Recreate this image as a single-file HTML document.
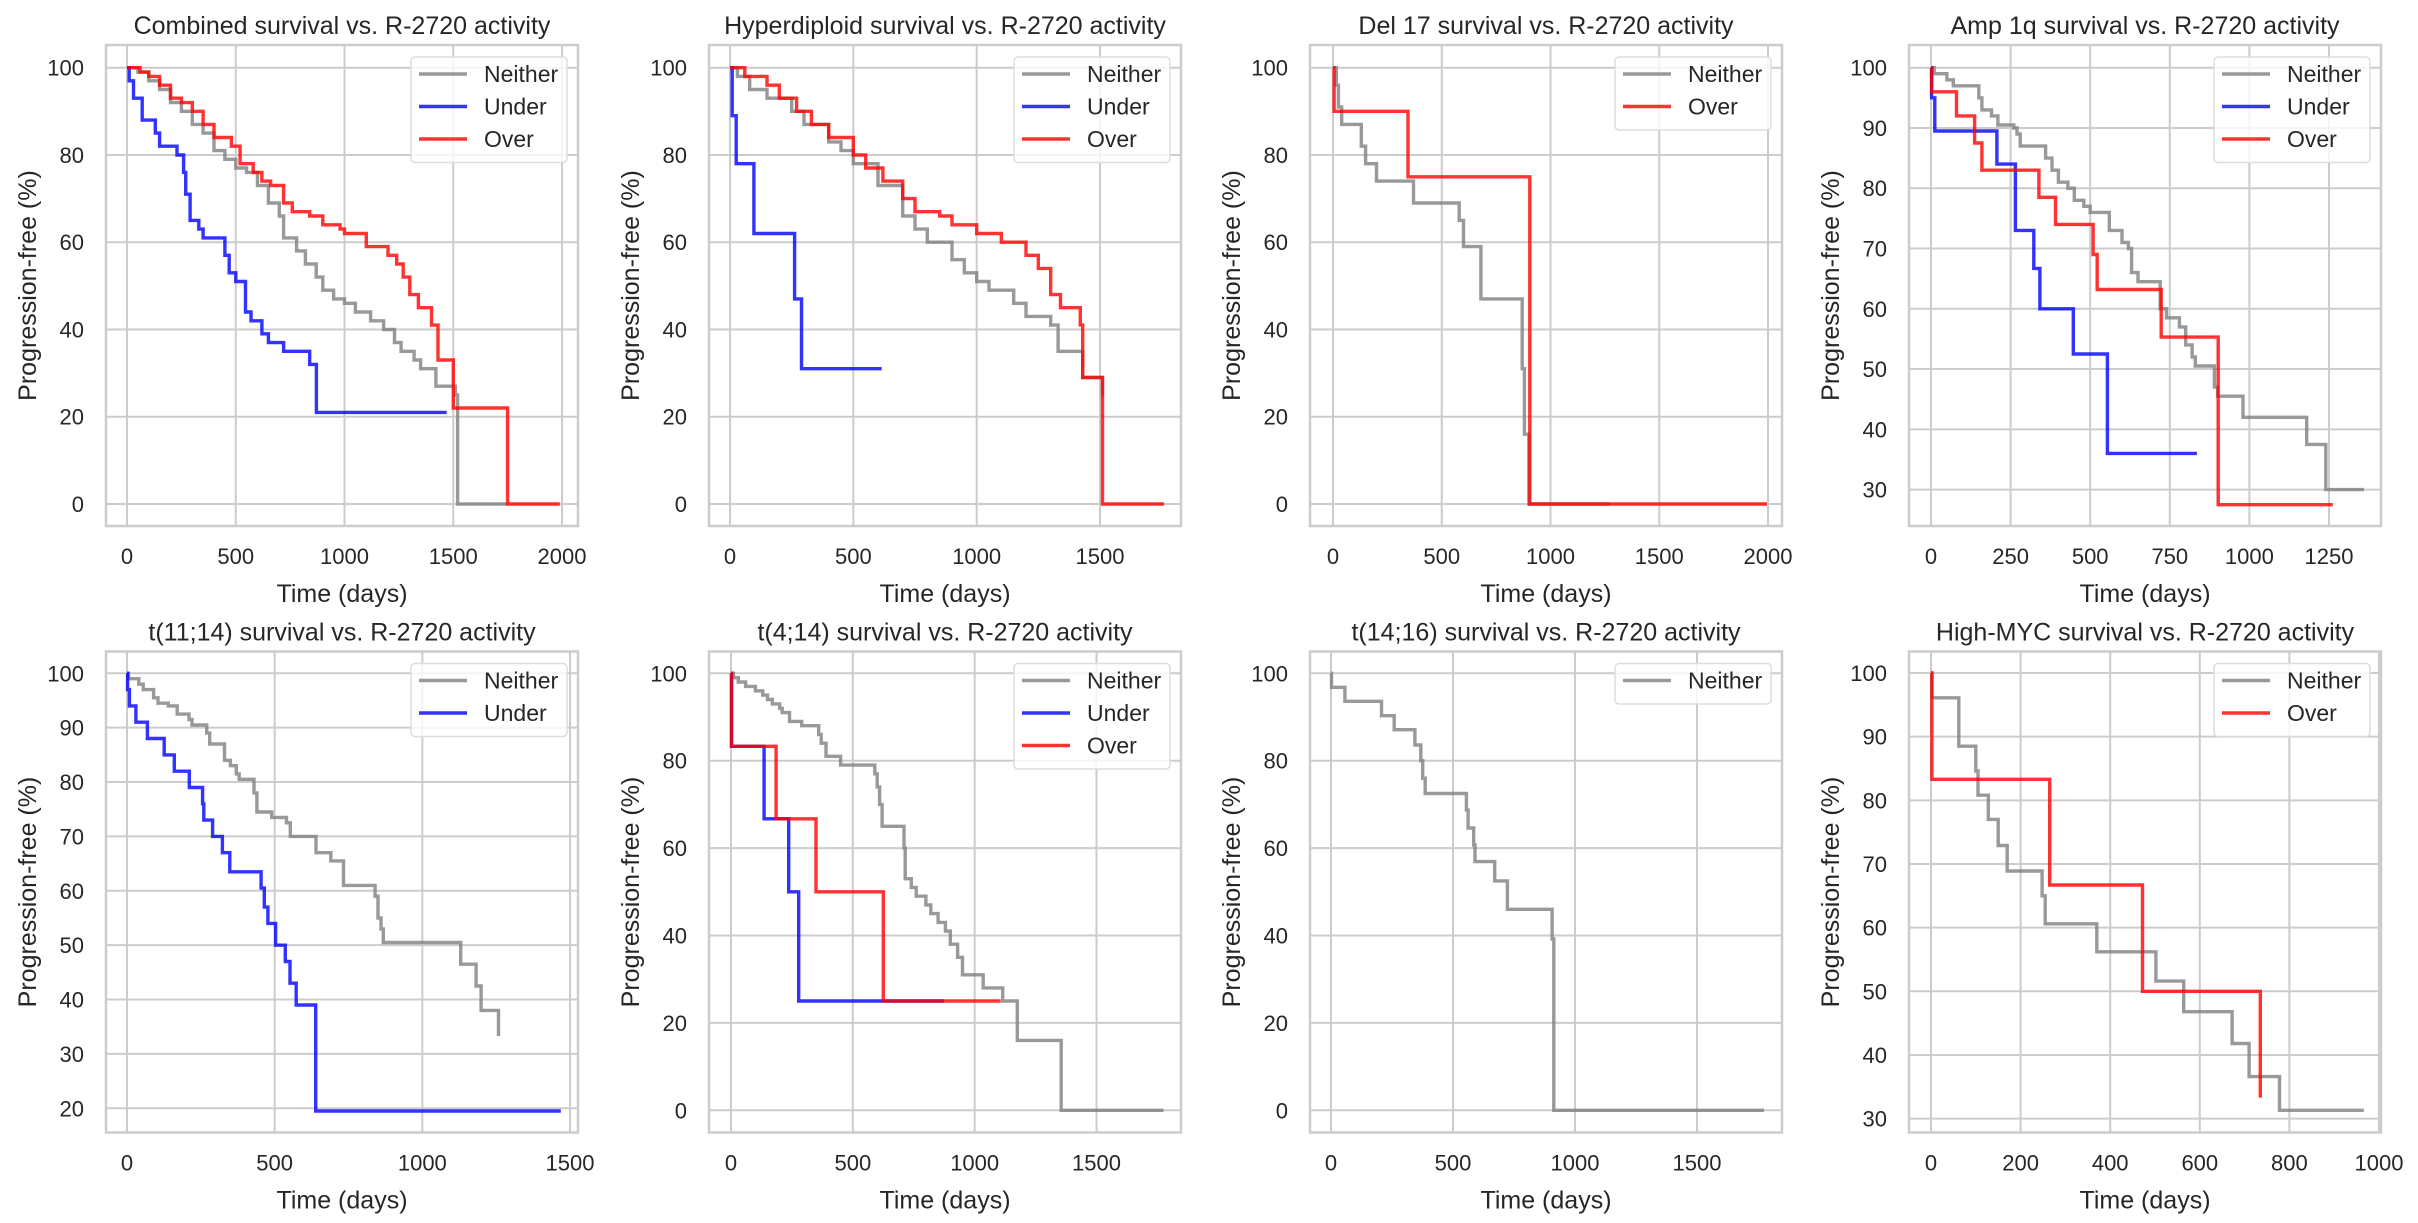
<!DOCTYPE html>
<html><head><meta charset="utf-8"><style>
body{margin:0;background:#fff}
svg text{font-family:"Liberation Sans",Arial,sans-serif;fill:#262626}
</style></head><body>
<svg id="s" width="2418" height="1218" xmlns="http://www.w3.org/2000/svg"></svg>
<script>
const G='#808080',B='#0000ff',R='#ff0000';
const cols=[106,709,1310,1909],rows=[45,651.5],W=472,H=481;
const P=[
{t:'Combined survival vs. R-2720 activity',c:0,r:0,x:[0,127,2000,562],y:[100,67.7,0,504],xt:[0,500,1000,1500,2000],yt:[0,20,40,60,80,100],
s:[[G,[[0,100],[50,99],[100,97],[150,95],[200,92],[250,90],[300,87],[350,85],[400,81],[450,79],[500,77],[550,76],[600,73],[650,69],[700,66],[720,61],[780,58],[820,55],[870,52],[900,49],[950,47],[1000,46],[1050,44],[1120,42],[1180,40],[1230,37],[1260,35],[1320,33],[1350,31],[1420,27],[1510,25],[1520,0],[1750,0]]],
[B,[[0,100],[10,97],[30,93],[70,88],[130,85],[150,82],[230,80],[260,76],[270,71],[290,65],[330,63],[350,61],[447,61],[450,57],[470,53],[500,51],[545,44],[570,42],[620,39],[650,37],[720,35],[840,32],[871,21],[1470,21]]],
[R,[[0,100],[60,99],[100,98],[150,96],[200,93],[250,92],[300,90],[350,87],[400,84],[480,82],[520,78],[580,76],[620,74],[660,73],[720,69],[760,67],[840,66],[900,64],[980,63],[1000,62],[1100,59],[1200,57],[1240,55],[1270,52],[1300,48],[1340,45],[1400,41],[1430,33],[1500,22],[1750,0],[1990,0]]]],L:['Neither','Under','Over']},
{t:'Hyperdiploid survival vs. R-2720 activity',c:1,r:0,x:[0,730,1500,1100],y:[100,67.7,0,504],xt:[0,500,1000,1500],yt:[0,20,40,60,80,100],
s:[[G,[[0,100],[30,98],[80,95],[150,93],[250,90],[300,87],[400,83],[450,81],[500,78],[600,73],[700,66],[750,63],[800,60],[900,56],[950,53],[1000,51],[1050,49],[1150,46],[1200,43],[1300,41],[1330,35],[1430,29],[1510,25],[1515,25]]],
[B,[[0,100],[9,89],[25,78],[97,62],[262,47],[290,31],[615,31]]],
[R,[[0,100],[60,98],[150,96],[200,93],[270,90],[330,87],[400,84],[500,80],[550,77],[620,74],[700,70],[750,67],[850,66],[900,64],[1000,62],[1100,60],[1200,57],[1250,54],[1300,48],[1340,45],[1420,41],[1430,29],[1510,0],[1760,0]]]],L:['Neither','Under','Over']},
{t:'Del 17 survival vs. R-2720 activity',c:2,r:0,x:[0,1333,2000,1768],y:[100,67.7,0,504],xt:[0,500,1000,1500,2000],yt:[0,20,40,60,80,100],
s:[[G,[[0,100],[15,96],[25,91],[40,87],[130,82],[150,78],[200,74],[370,69],[580,65],[600,59],[680,47],[870,31],[880,16],[900,0],[1270,0]]],
[R,[[0,100],[5,90],[343,90],[345,75],[903,75],[905,0],[1995,0]]]],L:['Neither','Over'],lc:[G,R]},
{t:'Amp 1q survival vs. R-2720 activity',c:3,r:0,x:[0,1931,1250,2329],y:[100,67.7,30,489.6],xt:[0,250,500,750,1000,1250],yt:[30,40,50,60,70,80,90,100],
s:[[G,[[0,100],[10,99],[50,98],[70,97],[140,97],[150,95],[160,93],[190,92],[210,90.5],[260,90],[270,89],[280,87],[340,87],[360,85],[380,83],[400,81],[430,80],[450,78],[480,77],[500,76],[560,73],[600,71],[620,70],[630,66],[650,64.5],[710,64.5],[720,60],[740,58.5],[780,57],[800,54],[820,52],[830,50.5],[880,50.5],[890,47],[900,45.5],[980,42],[1180,37.5],[1240,30],[1360,30]]],
[B,[[0,100],[2,95],[12,89.5],[207,84],[265,73],[323,66.7],[342,60],[447,52.5],[554,36],[835,36]]],
[R,[[0,100],[2,96],[80,92],[137,87.5],[160,83],[339,78.5],[391,74],[509,69],[522,63.2],[723,55.3],[902,27.5],[1262,27.5]]]],L:['Neither','Under','Over']},
{t:'t(11;14) survival vs. R-2720 activity',c:0,r:1,x:[0,127,1500,570],y:[100,673.3,20,1108.3],xt:[0,500,1000,1500],yt:[20,30,40,50,60,70,80,90,100],
s:[[G,[[0,100],[5,99],[40,98],[55,97],[90,95.5],[105,94.5],[140,94],[170,92.5],[210,91.5],[220,90.5],[260,90.5],[270,89],[280,87],[320,87],[330,84],[350,83],[370,81.5],[380,80.5],[423,80.5],[430,78],[440,74.5],[470,74.5],[490,73.5],[540,72.5],[553,70],[634,70],[640,67],[680,67],[690,65.5],[725,65.5],[733,61],[830,61],[840,59],[850,55],[860,53],[868,50.5],[1068,50.5],[1130,46.5],[1182,42.5],[1199,38],[1258,33.3]]],
[B,[[0,100],[2,97],[8,94],[30,91],[69,88],[126,85],[160,82],[211,79],[256,76],[260,73],[290,70],[323,67],[348,63.5],[454,60.5],[465,57],[477,54],[503,50],[536,47],[552,43],[573,39],[639,19.5],[1469,19.5]]]],L:['Neither','Under'],lc:[G,B]},
{t:'t(4;14) survival vs. R-2720 activity',c:1,r:1,x:[0,731,1500,1096.5],y:[100,673.3,0,1110.3],xt:[0,500,1000,1500],yt:[0,20,40,60,80,100],
s:[[G,[[0,100],[10,99],[30,98],[60,97],[100,96],[130,95],[150,94],[170,93],[200,92],[210,91],[240,89],[280,89],[290,88],[350,88],[360,86],[370,84],[390,81],[430,81],[450,79],[580,79],[590,77],[600,74],[610,70],[620,65],[700,65],[710,60],[715,53],[740,51],[760,49],[800,47],[820,45],[850,43],[880,41],[900,38],[930,35],[950,31],[1030,31],[1035,28],[1110,28],[1115,25],[1172,25],[1175,16],[1352,16],[1355,0],[1775,0]]],
[B,[[0,100],[2,83.3],[134,83.3],[136,66.7],[235,66.7],[237,50],[276,50],[278,25],[875,25]]],
[R,[[0,100],[2,83.3],[183,83.3],[185,66.7],[347,66.7],[349,50],[623,50],[625,25],[1107,25]]]],L:['Neither','Under','Over']},
{t:'t(14;16) survival vs. R-2720 activity',c:2,r:1,x:[0,1331,1500,1697],y:[100,673.3,0,1110.3],xt:[0,500,1000,1500],yt:[0,20,40,60,80,100],
s:[[G,[[0,100],[2,96.8],[55,96.8],[57,93.6],[205,93.6],[207,90.3],[257,90.3],[259,87.1],[342,87.1],[344,83.6],[366,83.6],[368,80],[376,76],[386,72.5],[548,72.5],[555,68.7],[562,64.6],[585,60.7],[590,56.9],[669,56.9],[671,52.5],[721,52.5],[723,46],[902,46],[906,39.2],[913,0],[1775,0]]]],L:['Neither'],lc:[G]},
{t:'High-MYC survival vs. R-2720 activity',c:3,r:1,x:[0,1931,1000,2379],y:[100,673,30,1118.6],xt:[0,200,400,600,800,1000],yt:[30,40,50,60,70,80,90,100],
s:[[G,[[0,100],[2,96.1],[60,96.1],[62,88.5],[97,88.5],[100,84.6],[105,80.8],[126,80.8],[128,77],[150,72.9],[170,68.9],[245,68.9],[248,65],[255,60.6],[368,60.6],[370,56.2],[500,56.2],[502,51.6],[562,51.6],[564,46.8],[670,46.8],[672,41.8],[708,41.8],[710,36.6],[776,36.6],[778,31.3],[966,31.3]]],
[R,[[0,100],[2,83.3],[263,83.3],[265,66.7],[470,66.7],[472,50],[733,50],[735,33.3]]]],L:['Neither','Over'],lc:[G,R]}
];
let o='';
P.forEach((p,i)=>{
 const L=cols[p.c],T=rows[p.r],Rt=L+W,Bt=T+H;
 const sx=(p.x[3]-p.x[1])/(p.x[2]-p.x[0]),fx=v=>p.x[1]+(v-p.x[0])*sx;
 const sy=(p.y[3]-p.y[1])/(p.y[2]-p.y[0]),fy=v=>p.y[1]+(v-p.y[0])*sy;
 o+=`<defs><clipPath id="c${i}"><rect x="${L}" y="${T}" width="${W}" height="${H}"/></clipPath></defs>`;
 p.xt.forEach(v=>{const x=fx(v);o+=`<line x1="${x}" x2="${x}" y1="${T}" y2="${Bt}" stroke="#cccccc" stroke-width="2"/><text x="${x}" y="${Bt+38}" font-size="22" text-anchor="middle">${v}</text>`;});
 p.yt.forEach(v=>{const y=fy(v);o+=`<line x1="${L}" x2="${Rt}" y1="${y}" y2="${y}" stroke="#cccccc" stroke-width="2"/><text x="${L-22}" y="${y+8}" font-size="22" text-anchor="end">${v}</text>`;});
 o+=`<rect x="${L}" y="${T}" width="${W}" height="${H}" fill="none" stroke="#cccccc" stroke-width="2.5"/>`;
 p.s.forEach(([c,pts])=>{
  let d='M'+fx(pts[0][0]).toFixed(1)+' '+fy(pts[0][1]).toFixed(1);
  for(let k=1;k<pts.length;k++){d+=' H'+fx(pts[k][0]).toFixed(1)+' V'+fy(pts[k][1]).toFixed(1);}
  o+=`<path d="${d}" fill="none" stroke="${c}" stroke-opacity="0.8" stroke-width="3.4" clip-path="url(#c${i})"/>`;
 });
 const lc=p.lc||[G,B,R],n=p.L.length,bx=Rt-167,by=T+12,bh=8+n*32.5;
 o+=`<rect x="${bx}" y="${by}" width="156" height="${bh}" rx="4" fill="#fff" fill-opacity="0.8" stroke="#dddddd" stroke-width="1.5"/>`;
 p.L.forEach((t,k)=>{const y=by+17+k*32.5;o+=`<line x1="${bx+8}" x2="${bx+56}" y1="${y}" y2="${y}" stroke="${lc[k]}" stroke-opacity="0.8" stroke-width="3.4"/><text x="${bx+73}" y="${y+8}" font-size="23">${t}</text>`;});
 o+=`<text x="${L+W/2}" y="${T-11}" font-size="25" text-anchor="middle">${p.t}</text>`;
 o+=`<text x="${L+W/2}" y="${Bt+76}" font-size="25" text-anchor="middle">Time (days)</text>`;
 o+=`<text transform="translate(${L-70},${T+H/2}) rotate(-90)" font-size="25" text-anchor="middle">Progression-free (%)</text>`;
});
document.getElementById('s').innerHTML=o;
</script>
</body></html>
